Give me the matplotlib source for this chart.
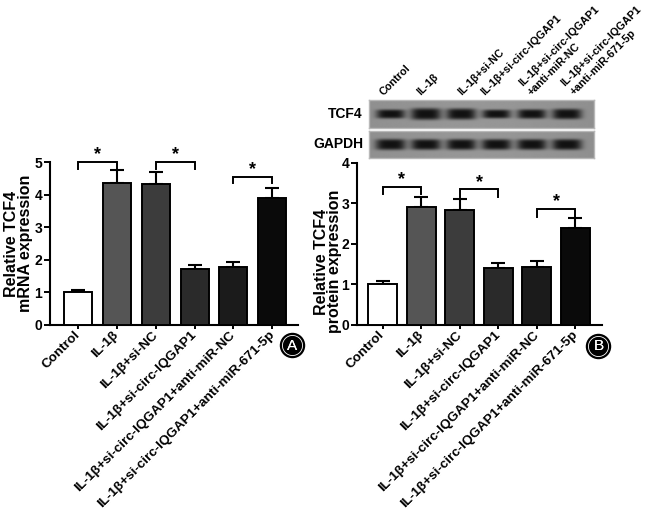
import numpy as np
import matplotlib
matplotlib.use("Agg")
import matplotlib.pyplot as plt
import matplotlib.transforms as mtransforms

plt.rcParams['font.family'] = ['Liberation Sans', 'DejaVu Sans']
plt.rcParams['font.weight'] = 'bold'

# ---------------- data ----------------
groups = ['Control', 'IL-1β', 'IL-1β+si-NC', 'IL-1β+si-circ-IQGAP1',
          'IL-1β+si-circ-IQGAP1+anti-miR-NC',
          'IL-1β+si-circ-IQGAP1+anti-miR-671-5p']
mrna_mean = [1.02, 4.35, 4.33, 1.71, 1.79, 3.90]
mrna_err = [0.05, 0.40, 0.37, 0.13, 0.15, 0.31]
protein_mean = [1.01, 2.92, 2.83, 1.41, 1.44, 2.38]
protein_err = [0.07, 0.23, 0.27, 0.11, 0.13, 0.25]
bar_colors = ['white', '#555555', '#3c3c3c', '#2a2a2a', '#1b1b1b', '#0a0a0a']

# significance brackets: (left group, right group, bracket level, leg end)
mrna_brackets = [(0, 1, 5.0, 4.8), (2, 3, 5.0, 4.8), (4, 5, 4.55, 4.35)]
protein_brackets = [(0, 1, 3.41, 3.23), (2, 3, 3.34, 3.16), (4, 5, 2.86, 2.67)]

blot_lanes = ['Control', 'IL-1β', 'IL-1β+si-NC', 'IL-1β+si-circ-IQGAP1',
              'IL-1β+si-circ-IQGAP1\n+anti-miR-NC',
              'IL-1β+si-circ-IQGAP1\n+anti-miR-671-5p']
tcf4_band = [0.55, 1.0, 0.9, 0.5, 0.62, 0.78]
gapdh_band = [0.95, 0.9, 0.92, 0.9, 0.9, 0.92]

# ---------------- layout ----------------
W, H = 657, 516
fig = plt.figure(figsize=(W / 100, H / 100), dpi=100)


def box(x0, y0, x1, y1):
    return [x0 / W, 1 - y1 / H, (x1 - x0) / W, (y1 - y0) / H]


axA = fig.add_axes(box(50, 162, 298, 325))
axB = fig.add_axes(box(356.7, 162.7, 601.7, 325))


def bar_panel(ax, means, errs, ymax, yticks, xlim, width, ylabel, label_xy, brackets):
    x = np.arange(len(means))
    ax.bar(x, means, width=width, color=bar_colors, edgecolor='black',
           linewidth=1.4, zorder=3)
    ax.errorbar(x, means, yerr=[np.zeros(len(errs)), errs], fmt='none',
                ecolor='black', elinewidth=1.5, capsize=4.8, capthick=1.5,
                zorder=2)
    ax.set_xlim(*xlim)
    ax.set_ylim(0, ymax)
    ax.set_yticks(yticks)
    ax.set_yticklabels([str(t) for t in yticks], fontsize=10, fontweight='bold')
    ax.set_xticks(x)
    ax.set_xticklabels(groups, rotation=45, ha='right', va='center',
                       rotation_mode='anchor', fontsize=9.7, fontweight='bold')
    for s in ['top', 'right']:
        ax.spines[s].set_visible(False)
    for s in ['left', 'bottom']:
        ax.spines[s].set_linewidth(1.5)
    ax.tick_params(axis='y', length=4, width=1.4, pad=1.5)
    ax.tick_params(axis='x', length=3, width=1.4, pad=3)
    ax.set_ylabel(ylabel, fontsize=11.5, fontweight='bold', linespacing=0.85)
    ax.yaxis.set_label_coords(*label_xy)
    for (a, b, lvl, leg) in brackets:
        ax.plot([a, a, b, b], [leg, lvl, lvl, leg], color='black', lw=1.4,
                clip_on=False, zorder=4, solid_joinstyle='miter')
        ax.annotate('*', xy=((a + b) / 2, lvl), xytext=(0, 5),
                    textcoords='offset points', ha='center', va='center',
                    fontsize=13, fontweight='bold', annotation_clip=False)


bar_panel(axA, mrna_mean, mrna_err, 5, [0, 1, 2, 3, 4, 5], (-0.72, 5.66), 0.72,
          'Relative TCF4\nmRNA expression', (-0.07, 0.5), mrna_brackets)
bar_panel(axB, protein_mean, protein_err, 4, [0, 1, 2, 3, 4], (-0.67, 5.68), 0.75,
          'Relative TCF4\nprotein expression', (-0.06, 0.39), protein_brackets)

# circled panel letters
for (cx, cy, letter) in [(292.5, 345.5, 'A'), (598.5, 346.5, 'B')]:
    fig.text(cx / W, 1 - cy / H, letter, ha='center', va='center', color='white',
             fontsize=11, fontweight='normal',
             bbox=dict(boxstyle='circle,pad=0.32', fc='black', ec='black', lw=1.2))
    fig.text(cx / W, 1 - cy / H, letter, ha='center', va='center', color='white',
             fontsize=11, fontweight='normal',
             bbox=dict(boxstyle='circle,pad=0.2', fc='none', ec='white', lw=0.6))

# ---------------- western blot ----------------
blot_xlim = (-0.61, 5.76)


def blot(ax, bands, height_scale):
    xs = np.linspace(blot_xlim[0], blot_xlim[1], 500)
    ys = np.linspace(-1, 1, 80)
    X, Y = np.meshgrid(xs, ys)
    dens = np.zeros_like(X)
    for i, v in enumerate(bands):
        hw = 0.38 + 0.05 * v
        hh = height_scale * (0.5 + 0.5 * v)
        dens += np.exp(-np.abs((X - i) / hw) ** 4) * np.exp(-(Y / hh) ** 4)
    dens = np.clip(dens, 0, 1)
    bg = 0.53 + 0.06 * np.exp(-((X - 2.5) / 4) ** 2)
    img = bg - (bg - 0.07) * dens
    ax.imshow(img, cmap='gray', vmin=0, vmax=1, aspect='auto',
              extent=(blot_xlim[0], blot_xlim[1], -1, 1), interpolation='bilinear')
    ax.set_xlim(*blot_xlim)
    ax.set_ylim(-1, 1)
    ax.set_xticks([])
    ax.set_yticks([])
    for s in ax.spines.values():
        s.set_color('#b8b8b8')
        s.set_linewidth(1.0)


axT = fig.add_axes(box(369, 100, 594, 128))
axG = fig.add_axes(box(369, 131, 594, 158))
blot(axT, tcf4_band, 0.42)
blot(axG, gapdh_band, 0.42)

fig.text(363 / W, 1 - 114 / H, 'TCF4', ha='right', va='center',
         fontsize=10, fontweight='bold')
fig.text(363 / W, 1 - 144 / H, 'GAPDH', ha='right', va='center',
         fontsize=10, fontweight='bold')

lane_offsets_px = [-6, -4, 2, -10, 1, 8]
trans = mtransforms.blended_transform_factory(axT.transData, axT.transAxes)
for i, lab in enumerate(blot_lanes):
    off = mtransforms.offset_copy(trans, fig=fig, x=lane_offsets_px[i] * 72 / 100,
                                  y=0, units='points')
    axT.text(i, 1.1, lab, transform=off, rotation=45, ha='left', va='bottom',
             rotation_mode='anchor', fontsize=7.8, fontweight='bold',
             linespacing=1.3, multialignment='left')

fig.savefig('out.png', dpi=100)
